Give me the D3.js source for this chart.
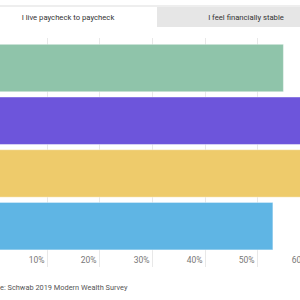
<!DOCTYPE html>
<meta charset="utf-8">
<script src="https://d3js.org/d3.v7.min.js"></script>
<style>
  body { margin: 0; background: #fff; }
  text { font-family: Roboto, "Noto Sans", sans-serif; }
</style>
<div id="chart"></div>
<script>

// Data
var tabs = ["I live paycheck to paycheck", "I feel financially stable"];
var categories = ["Gen Z", "Millennials", "Gen X", "Baby Boomers"];
var values = [0.55, 0.63, 0.61, 0.53];
var colors = ["#8fc4aa", "#6d55db", "#eecb6b", "#5fb5e4"];
var ticks = [0.1, 0.2, 0.3, 0.4, 0.5, 0.6];
var source = "Source: Schwab 2019 Modern Wealth Survey";

var W = 300, H = 300;

var svg = d3.select("#chart")
  .append("svg")
    .attr("width", W)
    .attr("height", H);

// Tabs
svg.append("rect")
    .attr("x", 0).attr("y", 5)
    .attr("width", W).attr("height", 2)
    .style("fill", "#eeeeee");

var tabW = 178, tabX0 = -21;
var tab = svg.selectAll(".tab")
  .data(tabs)
  .enter().append("g")
    .attr("class", "tab")
    .attr("transform", function(d, i) { return "translate(" + (tabX0 + i * tabW) + ",7)"; });

tab.append("rect")
    .attr("width", tabW)
    .attr("height", 20)
    .style("fill", function(d, i) { return i == 0 ? "#ffffff" : "#e6e6e6"; });

tab.append("text")
    .attr("x", tabW / 2)
    .attr("y", 12.5)
    .attr("text-anchor", "middle")
    .style("font-size", "7.7px")
    .style("fill", "#333")
    .text(function(d) { return d; });

// Scales
var x = d3.scaleLinear()
    .domain([0, 0.6])
    .range([-5.9, 309.7]);

var y = d3.scaleBand()
    .domain(categories)
    .range([44.3, 249.9])
    .paddingInner(0.1)
    .paddingOuter(0);

// Gridlines + tick labels
var axis = svg.append("g")
  .selectAll("g")
  .data(ticks)
  .enter().append("g")
    .attr("transform", function(d) { return "translate(" + Math.round(x(d)) + ",0)"; });

axis.append("line")
    .attr("x1", 0.5).attr("x2", 0.5)
    .attr("y1", 38).attr("y2", 267)
    .style("stroke", "#e8e8e8");

axis.append("text")
    .attr("x", -2.5)
    .attr("y", 263)
    .attr("text-anchor", "end")
    .style("font-size", "8.5px")
    .style("fill", "#777")
    .text(d3.format(".0%"));

// Bars
svg.append("g")
  .selectAll("rect")
  .data(values)
  .enter().append("rect")
    .attr("x", x(0))
    .attr("y", function(d, i) { return y(categories[i]); })
    .attr("width", function(d) { return x(d) - x(0); })
    .attr("height", y.bandwidth())
    .style("fill", function(d, i) { return colors[i]; })
    .style("stroke", "rgba(255,255,255,0.4)")
    .style("stroke-width", 1);

// Source
svg.append("text")
    .attr("x", -19)
    .attr("y", 290)
    .style("font-size", "7.4px")
    .style("fill", "#555")
    .text(source);

</script>
